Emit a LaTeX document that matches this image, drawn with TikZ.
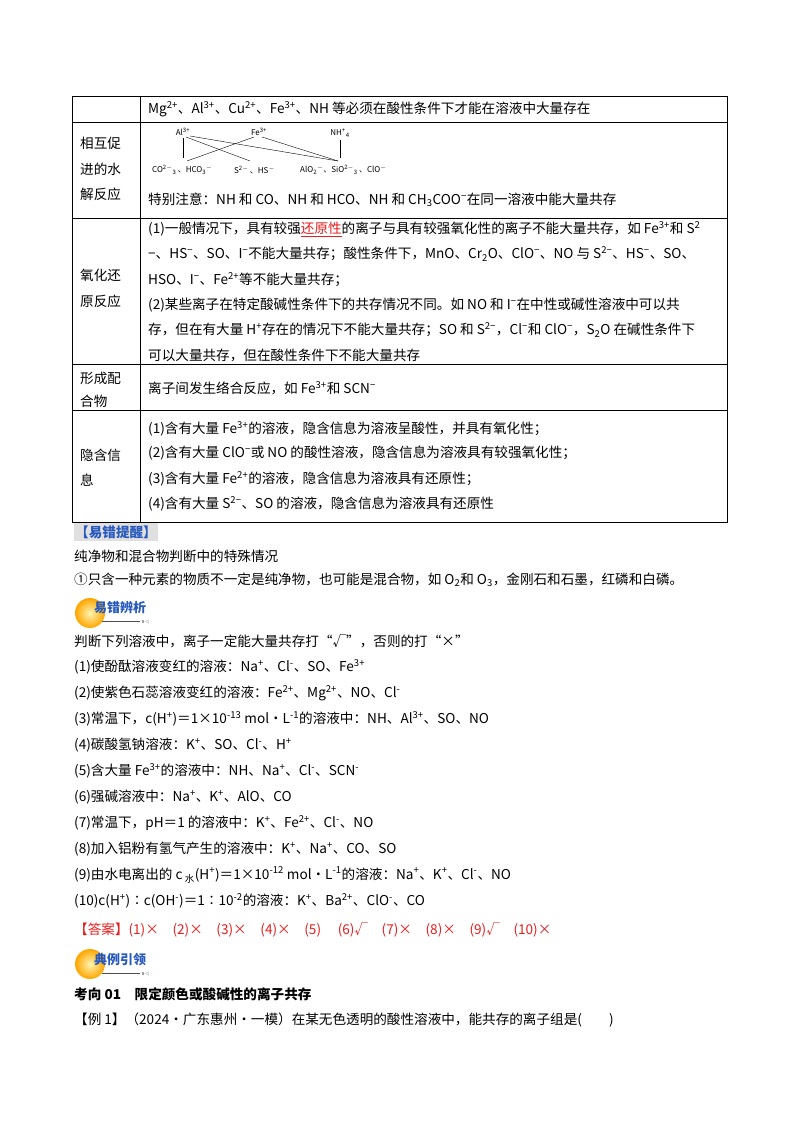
\documentclass[tikz,border=0pt]{standalone}
\usepackage{fontspec}
\setmainfont{Noto Sans CJK SC}
\newcommand\Su[1]{\textsuperscript{#1}}
\newcommand\Sb[1]{\textsubscript{#1}}
\newcommand\fs{\fontsize{13.6}{15}\selectfont}
\definecolor{bdgblue}{RGB}{40,90,190}
\definecolor{ansred}{RGB}{230,30,30}
\begin{document}
\begin{tikzpicture}[x=1pt,y=-1pt,
  t/.style={anchor=west,inner sep=0pt,font=\fs},
  sm/.style={inner sep=0pt,font=\fontsize{8}{9}\selectfont},
  ln/.style={line width=0.5pt},
  badge/.style={inner sep=0pt,font=\fontsize{13}{14}\selectfont\bfseries,text=bdgblue}]
\useasboundingbox (0,0) rectangle (800,1132);
\fill[white] (0,0) rectangle (800,1132);
% table
\draw[ln] (72,96) rectangle (727,522);
\draw[ln] (140,96) -- (140,522);
\foreach \y in {122,218,364,410} \draw[ln] (72,\y) -- (727,\y);
\node[t] (r1) at (148,109) {Mg\Su{2+}、Al\Su{3+}、Cu\Su{2+}、Fe\Su{3+}、NH 等必须在酸性条件下才能在溶液中大量存在};
% row 2
\node[t] (l2a) at (80,143) {相互促};
\node[t] (l2b) at (80,169) {进的水};
\node[t] (l2c) at (80,194) {解反应};
\node[sm] (al) at (183,132) {Al\Su{3+}};
\node[sm] (fe) at (259,132) {Fe\Su{3+}};
\node[sm] (nh) at (340,133) {NH\Su{+}\Sb{4}};
\node[sm,anchor=west] (b1) at (152,170) {CO\Su{2$-$}\Sb{3}\,、HCO\Sb{3}\Su{$-$}};
\node[sm,anchor=west] (b2) at (234,170) {S\Su{2$-$}\,、HS\Su{$-$}};
\node[sm,anchor=west] (b3) at (300,170) {AlO\Sb{2}\Su{$-$}、SiO\Su{2$-$}\Sb{3}\,、ClO\Su{$-$}};
\coordinate (hco) at (187,161); \coordinate (ss) at (250,161);
\coordinate (sio) at (338,161);
\draw[line width=0.4pt] (183,138) -- (183,158);
\draw[line width=0.4pt] (340,140) -- (340,158);
\draw[line width=0.4pt] (186,137) -- (ss);
\draw[line width=0.4pt] (190,136) -- (sio);
\draw[line width=0.4pt] (254,137) -- (hco);
\draw[line width=0.4pt] (262,137) -- (sio);
\node[t] (r2) at (148,200) {特别注意：NH 和 CO、NH 和 HCO、NH 和 CH\Sb{3}COO\Su{−}在同一溶液中能大量共存};
% row 3
\node[t] (l3a) at (80,275) {氧化还};
\node[t] (l3b) at (80,301) {原反应};
\node[t] (r3a) at (148,229) {(1)一般情况下，具有较强\textcolor{ansred}{\underline{还原性}}的离子与具有较强氧化性的离子不能大量共存，如 Fe\Su{3+}和 S\Su{2}};
\node[t] (r3b) at (148,254) {−、HS\Su{−}、SO、I\Su{−}不能大量共存；酸性条件下，MnO、Cr\Sb{2}O、ClO\Su{−}、NO 与 S\Su{2−}、HS\Su{−}、SO、};
\node[t] (r3c) at (148,280) {HSO、I\Su{−}、Fe\Su{2+}等不能大量共存；};
\node[t] (r3d) at (148,305) {(2)某些离子在特定酸碱性条件下的共存情况不同。如 NO 和 I\Su{−}在中性或碱性溶液中可以共};
\node[t] (r3e) at (148,330) {存，但在有大量 H\Su{+}存在的情况下不能大量共存；SO 和 S\Su{2−}，Cl\Su{−}和 ClO\Su{−}，S\Sb{2}O 在碱性条件下};
\node[t] (r3f) at (148,355) {可以大量共存，但在酸性条件下不能大量共存};
% row 4
\node[t] (l4a) at (80,378) {形成配};
\node[t] (l4b) at (80,401) {合物};
\node[t] (r4) at (148,388) {离子间发生络合反应，如 Fe\Su{3+}和 SCN\Su{−}};
% row 5
\node[t] (l5a) at (80,455) {隐含信};
\node[t] (l5b) at (80,480) {息};
\node[t] (r5a) at (148,429) {(1)含有大量 Fe\Su{3+}的溶液，隐含信息为溶液呈酸性，并具有氧化性；};
\node[t] (r5b) at (148,453) {(2)含有大量 ClO\Su{−}或 NO 的酸性溶液，隐含信息为溶液具有较强氧化性；};
\node[t] (r5c) at (148,479) {(3)含有大量 Fe\Su{2+}的溶液，隐含信息为溶液具有还原性；};
\node[t] (r5d) at (148,504) {(4)含有大量 S\Su{2−}、SO 的溶液，隐含信息为溶液具有还原性};
% tip
\node[t,fill=black!12,inner ysep=2pt,inner xsep=1pt,text=bdgblue,font=\fs\bfseries] (tip) at (74,532) {【易错提醒】};
\node[t] (p1) at (74,556) {纯净物和混合物判断中的特殊情况};
\node[t] (p2) at (74,580) {①只含一种元素的物质不一定是纯净物，也可能是混合物，如 O\Sb{2}和 O\Sb{3}，金刚石和石墨，红磷和白磷。};
% badge 1
\shade[inner color=orange!25!yellow!30,outer color=orange!70!yellow] (90,613) circle (15);
\node[badge,anchor=west] (bd1) at (94,608) {易错辨析};
\draw[line width=0.6pt,black!70] (102,621) -- (140,621);
\node[inner sep=0,font=\fontsize{4}{4}\selectfont,anchor=west] (bd1s) at (141,622) {Ⅱ◁};
% questions
\node[t] (q0) at (74,641) {判断下列溶液中，离子一定能大量共存打“√”，否则的打“×”};
\node[t] (q1) at (74,667) {(1)使酚酞溶液变红的溶液：Na\Su{+}、Cl\Su{-}、SO、Fe\Su{3+}};
\node[t] (q2) at (74,693) {(2)使紫色石蕊溶液变红的溶液：Fe\Su{2+}、Mg\Su{2+}、NO、Cl\Su{-}};
\node[t] (q3) at (74,719) {(3)常温下，\textit{c}(H\Su{+})＝1×10\Su{-13} mol·L\Su{-1}的溶液中：NH、Al\Su{3+}、SO、NO};
\node[t] (q4) at (74,745) {(4)碳酸氢钠溶液：K\Su{+}、SO、Cl\Su{-}、H\Su{+}};
\node[t] (q5) at (74,771) {(5)含大量 Fe\Su{3+}的溶液中：NH、Na\Su{+}、Cl\Su{-}、SCN\Su{-}};
\node[t] (q6) at (74,797) {(6)强碱溶液中：Na\Su{+}、K\Su{+}、AlO、CO};
\node[t] (q7) at (74,823) {(7)常温下，pH＝1 的溶液中：K\Su{+}、Fe\Su{2+}、Cl\Su{-}、NO};
\node[t] (q8) at (74,849) {(8)加入铝粉有氢气产生的溶液中：K\Su{+}、Na\Su{+}、CO、SO};
\node[t] (q9) at (74,875) {(9)由水电离出的 \textit{c}\,\Sb{水}(H\Su{+})＝1×10\Su{-12} mol·L\Su{-1}的溶液：Na\Su{+}、K\Su{+}、Cl\Su{-}、NO};
\node[t] (q10) at (74,901) {(10)\textit{c}(H\Su{+})∶\textit{c}(OH\Su{-})＝1∶10\Su{-2}的溶液：K\Su{+}、Ba\Su{2+}、ClO\Su{-}、CO};
\node[t,text=ansred] (ans) at (74,930) {【答案】(1)×\quad (2)×\quad (3)×\quad (4)×\quad (5)\quad\ (6)√\quad (7)×\quad (8)×\quad (9)√\quad (10)×};
% badge 2
\shade[inner color=orange!25!yellow!30,outer color=orange!70!yellow] (90,964) circle (15);
\node[badge,anchor=west] (bd2) at (94,960) {典例引领};
\draw[line width=0.6pt,black!70] (102,973) -- (140,973);
\node[inner sep=0,font=\fontsize{4}{4}\selectfont,anchor=west] (bd2s) at (141,974) {Ⅱ◁};
\node[t,font=\fs\bfseries] (k1) at (74,994) {考向 01\quad 限定颜色或酸碱性的离子共存};
\node[t] (e1) at (74,1020) {【例 1】（2024·广东惠州·一模）在某无色透明的酸性溶液中，能共存的离子组是(\qquad)};
\end{tikzpicture}
\end{document}
